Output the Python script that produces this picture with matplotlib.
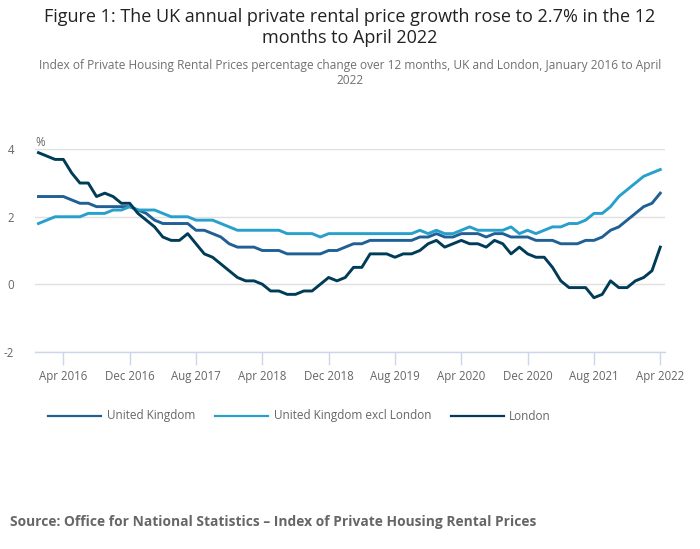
import matplotlib
matplotlib.use("Agg")
import matplotlib.pyplot as plt
import numpy as np

plt.rcParams['font.family'] = ['Open Sans', 'DejaVu Sans']

# Monthly data, Jan 2016 to Apr 2022
uk = [2.6, 2.6, 2.6, 2.6, 2.5, 2.4, 2.4, 2.3, 2.3, 2.3, 2.3, 2.3,
      2.2, 2.1, 1.9, 1.8, 1.8, 1.8, 1.8, 1.6, 1.6, 1.5, 1.4, 1.2,
      1.1, 1.1, 1.1, 1.0, 1.0, 1.0, 0.9, 0.9, 0.9, 0.9, 0.9, 1.0,
      1.0, 1.1, 1.2, 1.2, 1.3, 1.3, 1.3, 1.3, 1.3, 1.3, 1.4, 1.4,
      1.5, 1.4, 1.4, 1.5, 1.5, 1.5, 1.4, 1.5, 1.5, 1.4, 1.4, 1.4,
      1.3, 1.3, 1.3, 1.2, 1.2, 1.2, 1.3, 1.3, 1.4, 1.6, 1.7, 1.9,
      2.1, 2.3, 2.4, 2.7]
uk_excl_london = [1.8, 1.9, 2.0, 2.0, 2.0, 2.0, 2.1, 2.1, 2.1, 2.2, 2.2, 2.3,
                  2.2, 2.2, 2.2, 2.1, 2.0, 2.0, 2.0, 1.9, 1.9, 1.9, 1.8, 1.7,
                  1.6, 1.6, 1.6, 1.6, 1.6, 1.6, 1.5, 1.5, 1.5, 1.5, 1.4, 1.5,
                  1.5, 1.5, 1.5, 1.5, 1.5, 1.5, 1.5, 1.5, 1.5, 1.5, 1.6, 1.5,
                  1.6, 1.5, 1.5, 1.6, 1.7, 1.6, 1.6, 1.6, 1.6, 1.7, 1.5, 1.6,
                  1.5, 1.6, 1.7, 1.7, 1.8, 1.8, 1.9, 2.1, 2.1, 2.3, 2.6, 2.8,
                  3.0, 3.2, 3.3, 3.4]
london = [3.9, 3.8, 3.7, 3.7, 3.3, 3.0, 3.0, 2.6, 2.7, 2.6, 2.4, 2.4,
          2.1, 1.9, 1.7, 1.4, 1.3, 1.3, 1.5, 1.2, 0.9, 0.8, 0.6, 0.4,
          0.2, 0.1, 0.1, 0.0, -0.2, -0.2, -0.3, -0.3, -0.2, -0.2, 0.0, 0.2,
          0.1, 0.2, 0.5, 0.5, 0.9, 0.9, 0.9, 0.8, 0.9, 0.9, 1.0, 1.2,
          1.3, 1.1, 1.2, 1.3, 1.2, 1.2, 1.1, 1.3, 1.2, 0.9, 1.1, 0.9,
          0.8, 0.8, 0.5, 0.1, -0.1, -0.1, -0.1, -0.4, -0.3, 0.1, -0.1, -0.1,
          0.1, 0.2, 0.4, 1.1]

tick_months = [3, 11, 19, 27, 35, 43, 51, 59, 67, 75]
tick_labels = ["Apr 2016", "Dec 2016", "Aug 2017", "Apr 2018", "Dec 2018",
               "Aug 2019", "Apr 2020", "Dec 2020", "Aug 2021", "Apr 2022"]
y_ticks = [-2, 0, 2, 4]
series_names = ["United Kingdom", "United Kingdom excl London", "London"]
colors = ["#206095", "#27a0cc", "#003c57"]

W, H = 700, 549
fig = plt.figure(figsize=(W / 100, H / 100), dpi=100)
ax_left, ax_right = 35, 665
ax_top, ax_bottom = 149.3, 351.7
ax = fig.add_axes([ax_left / W, 1 - ax_bottom / H, (ax_right - ax_left) / W, (ax_bottom - ax_top) / H])

x = np.arange(len(uk))
for data, name, c in zip([uk, uk_excl_london, london], series_names, colors):
    ax.plot(x, data, color=c, lw=2.1, label=name, zorder=3)

ax.set_ylim(-2, 4)
ax.set_xlim(-0.42, 75.57)
ax.set_yticks(y_ticks)
ax.set_yticklabels([str(v) for v in y_ticks])
ax.set_xticks(tick_months)
ax.set_xticklabels(tick_labels)
ax.grid(axis='y', color='#e0e0e0', lw=1)
ax.set_axisbelow(True)
for s in ['top', 'right', 'left']:
    ax.spines[s].set_visible(False)
ax.spines['bottom'].set_color('#ccd6eb')
ax.spines['bottom'].set_linewidth(1)
ax.tick_params(axis='x', colors='#ccd6eb', length=9, width=1, labelcolor='#666666', labelsize=8.3, pad=4)
ax.tick_params(axis='y', length=0, labelcolor='#666666', labelsize=8.3, pad=15)

fig.text(35 / W, 1 - 143 / H, "%", fontsize=8.3, color='#666666', ha='left', va='center')

fig.text(0.5, 1 - 17 / H, "Figure 1: The UK annual private rental price growth rose to 2.7% in the 12",
         fontsize=13, color='#222222', ha='center', va='center')
fig.text(0.5, 1 - 38 / H, "months to April 2022",
         fontsize=13, color='#222222', ha='center', va='center')
fig.text(0.5, 1 - 66 / H, "Index of Private Housing Rental Prices percentage change over 12 months, UK and London, January 2016 to April",
         fontsize=8.55, color='#707070', ha='center', va='center')
fig.text(0.5, 1 - 80 / H, "2022", fontsize=8.55, color='#707070', ha='center', va='center')

# legend
leg_y = 1 - 416 / H
leg_items = [(48, 101, 107), (215, 268, 274), (451, 504, 509)]
for (x0, x1, tx), name, c in zip(leg_items, series_names, colors):
    fig.add_artist(plt.Line2D([x0 / W, x1 / W], [leg_y, leg_y], color=c, lw=1.6, transform=fig.transFigure))
    fig.text(tx / W, leg_y, name, fontsize=8.5, color='#666666', ha='left', va='center')

fig.text(10 / W, 1 - 522 / H, "Source: Office for National Statistics \u2013 Index of Private Housing Rental Prices",
         fontsize=9.9, fontweight='bold', color='#666666', ha='left', va='center')

fig.savefig("out.png", dpi=100)
